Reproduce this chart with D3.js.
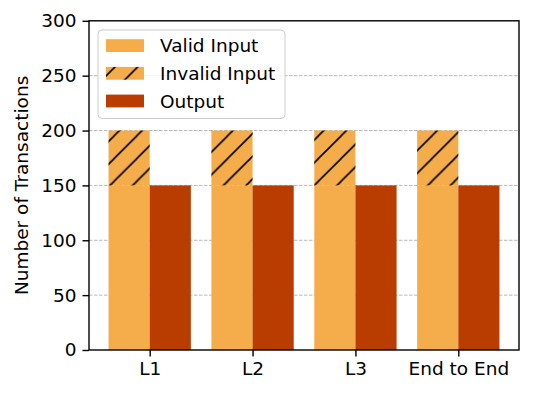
<!doctype html>
<html>
<head>
<meta charset="UTF-8">
<title>Transactions</title>
<script src="https://cdn.jsdelivr.net/npm/d3@7"></script>
<style>
    body { margin: 0; background: #fff; }
    text { font-family: "DejaVu Sans", sans-serif; fill: #000; }
</style>
</head>
<body>
<script>
    var categories = ["L1", "L2", "L3", "End to End"];
    var validInput = [150, 150, 150, 150];
    var invalidInput = [50, 50, 50, 50];
    var output = [150, 150, 150, 150];
    var yTicks = [0, 50, 100, 150, 200, 250, 300];
    var legendLabels = ["Valid Input", "Invalid Input", "Output"];

    var validColor = "#f5ad4b",
        outputColor = "#b93c00";

    var W = 533, H = 395;
    var plotL = 89, plotR = 519, plotT = 20.8, plotB = 350;
    var barW = 0.4;
    var fs = "18.5px";

    var svg = d3.select("body").append("svg")
        .attr("width", W)
        .attr("height", H);

    var x = d3.scaleLinear().domain([-0.59, 3.59]).range([plotL, plotR]);
    var y = d3.scaleLinear().domain([0, 300]).range([plotB, plotT]);

    // hatch pattern "/"
    var p = 22.7;
    var pat = svg.append("defs").append("pattern")
        .attr("id", "hatch")
        .attr("patternUnits", "userSpaceOnUse")
        .attr("width", p)
        .attr("height", p)
        .attr("patternTransform", "translate(0.3,0)");
    [0, p, 2 * p].forEach(function (c) {
        pat.append("line")
            .attr("x1", c - p - 1).attr("y1", p + 1)
            .attr("x2", c + 1).attr("y2", -1)
            .attr("stroke", "#000")
            .attr("stroke-width", 1.6);
    });

    // grid
    svg.append("g").selectAll("line")
        .data(yTicks.filter(function (d) { return d > 0 && d < 300; }))
        .enter().append("line")
        .attr("x1", plotL).attr("x2", plotR)
        .attr("y1", function (d) { return y(d); })
        .attr("y2", function (d) { return y(d); })
        .attr("stroke", "#b0b0b0")
        .attr("stroke-width", 0.9)
        .attr("stroke-dasharray", "3.5,1.5");

    var idx = d3.range(categories.length);

    svg.append("g").selectAll("rect")
        .data(idx).enter().append("rect")
        .attr("x", function (i) { return x(i - barW); })
        .attr("width", function (i) { return x(i) - x(i - barW); })
        .attr("y", function (i) { return y(validInput[i]); })
        .attr("height", function (i) { return y(0) - y(validInput[i]); })
        .attr("fill", validColor);

    var inv = svg.append("g");
    inv.selectAll(".invfill")
        .data(idx).enter().append("rect")
        .attr("class", "invfill")
        .attr("x", function (i) { return x(i - barW); })
        .attr("width", function (i) { return x(i) - x(i - barW); })
        .attr("y", function (i) { return y(validInput[i] + invalidInput[i]); })
        .attr("height", function (i) { return y(validInput[i]) - y(validInput[i] + invalidInput[i]); })
        .attr("fill", validColor);
    inv.selectAll(".invhatch")
        .data(idx).enter().append("rect")
        .attr("class", "invhatch")
        .attr("x", function (i) { return x(i - barW); })
        .attr("width", function (i) { return x(i) - x(i - barW); })
        .attr("y", function (i) { return y(validInput[i] + invalidInput[i]); })
        .attr("height", function (i) { return y(validInput[i]) - y(validInput[i] + invalidInput[i]); })
        .attr("fill", "url(#hatch)");

    svg.append("g").selectAll("rect")
        .data(idx).enter().append("rect")
        .attr("x", function (i) { return x(i); })
        .attr("width", function (i) { return x(i + barW) - x(i); })
        .attr("y", function (i) { return y(output[i]); })
        .attr("height", function (i) { return y(0) - y(output[i]); })
        .attr("fill", outputColor);

    // axes
    var yAxis = svg.append("g")
        .attr("transform", "translate(" + plotL + ",0)")
        .call(d3.axisLeft(y).tickValues(yTicks).tickSize(6.5).tickPadding(6));
    var xAxis = svg.append("g")
        .attr("transform", "translate(0," + plotB + ")")
        .call(d3.axisBottom(x).tickValues(idx)
            .tickFormat(function (i) { return categories[i]; })
            .tickSize(6.5).tickPadding(5));
    [yAxis, xAxis].forEach(function (g) {
        g.select(".domain").remove();
        g.selectAll("line").attr("stroke", "#000").attr("stroke-width", 1.4);
        g.selectAll("text").style("font-size", fs).attr("fill", "#000");
    });

    svg.append("rect")
        .attr("x", plotL).attr("y", plotT)
        .attr("width", plotR - plotL).attr("height", plotB - plotT)
        .attr("fill", "none")
        .attr("stroke", "#000")
        .attr("stroke-width", 1.4);

    svg.append("text")
        .attr("transform", "translate(21," + ((plotT + plotB) / 2) + ") rotate(-90)")
        .attr("text-anchor", "middle")
        .attr("dy", "0.36em")
        .style("font-size", fs)
        .text("Number of Transactions");

    // legend
    var lg = svg.append("g");
    lg.append("rect")
        .attr("x", 98).attr("y", 30)
        .attr("width", 187).attr("height", 88.5)
        .attr("rx", 4)
        .attr("fill", "#fff")
        .attr("fill-opacity", 0.8)
        .attr("stroke", "#cccccc")
        .attr("stroke-width", 1);

    var fills = [validColor, validColor, outputColor];
    legendLabels.forEach(function (label, k) {
        var cy = 45.6 + k * 27.7;
        lg.append("rect")
            .attr("x", 106).attr("y", cy - 6.4)
            .attr("width", 38).attr("height", 12.8)
            .attr("fill", fills[k]);
        if (k === 1) {
            lg.append("rect")
                .attr("x", 106).attr("y", cy - 6.4)
                .attr("width", 38).attr("height", 12.8)
                .attr("fill", "url(#hatch)");
        }
        lg.append("text")
            .attr("x", 160).attr("y", cy)
            .attr("dy", "0.36em")
            .style("font-size", fs)
            .text(label);
    });
</script>
</body>
</html>
